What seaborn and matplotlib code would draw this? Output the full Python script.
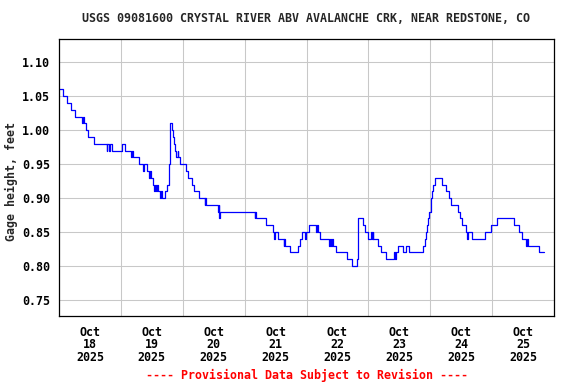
import pandas as pd
import matplotlib
matplotlib.use("Agg")
import matplotlib.pyplot as plt
import matplotlib.dates as mdates
import seaborn as sns

# gage height readings (step changes), hours since 2025-10-18 00:00
hours = [0.0, 1.7, 3.0, 4.6, 6.2, 8.8, 9.5, 9.75, 10.3, 11.3, 13.7,
         18.5, 18.75, 19.5, 19.75, 20.4, 24.3, 25.5, 28.1, 28.4, 28.6,
         31.1, 32.6, 32.85, 34.3, 35.0, 35.3, 35.5, 36.6, 37.0, 37.25,
         37.6, 38.0, 38.3, 39.3, 39.55, 40.0, 41.3, 42.0, 42.6, 42.9,
         43.75, 44.25, 44.5, 45.0, 45.5, 46.0, 46.25, 47.1, 49.2, 50.0,
         51.7, 52.4, 54.3, 56.5, 56.75, 57.2, 61.7, 61.9, 62.1, 62.3,
         75.9, 76.1, 76.5, 80.4, 82.9, 83.5, 83.75, 84.9, 87.1, 87.4,
         87.6, 89.7, 92.6, 93.5, 94.2, 95.5, 95.8, 96.9, 99.7, 100.2,
         100.5, 101.3, 104.6, 105.1, 105.4, 105.9, 106.2, 107.5, 111.6,
         113.5, 115.4, 115.8, 118.0, 118.8, 119.7, 121.0, 121.25, 121.7,
         121.95, 123.6, 124.9, 126.8, 130.0, 130.25, 130.6, 131.3, 133.5,
         134.6, 135.6, 141.2, 141.9, 142.3, 142.8, 143.2, 143.6, 144.2,
         144.6, 145.1, 145.9, 148.6, 150.0, 151.3, 152.2, 154.8, 155.5,
         156.4, 157.7, 158.4, 158.7, 160.0, 165.4, 167.5, 169.9, 176.5,
         178.5, 179.6, 181.3, 181.6, 182.0, 186.1, 188.2]
gage_ft = [1.06, 1.05, 1.04, 1.03, 1.02, 1.01, 1.02, 1.01, 1.00, 0.99, 0.98,
           0.97, 0.98, 0.97, 0.98, 0.97, 0.98, 0.97, 0.96, 0.97, 0.96,
           0.95, 0.94, 0.95, 0.94, 0.93, 0.94, 0.93, 0.92, 0.91, 0.92,
           0.91, 0.92, 0.91, 0.90, 0.91, 0.90, 0.91, 0.92, 0.95, 1.01,
           1.00, 0.99, 0.98, 0.97, 0.96, 0.97, 0.96, 0.95, 0.94, 0.93,
           0.92, 0.91, 0.90, 0.89, 0.90, 0.89, 0.88, 0.89, 0.87, 0.88,
           0.87, 0.88, 0.87, 0.86, 0.85, 0.84, 0.85, 0.84, 0.83, 0.84,
           0.83, 0.82, 0.83, 0.84, 0.85, 0.84, 0.85, 0.86, 0.85, 0.86,
           0.85, 0.84, 0.83, 0.84, 0.83, 0.84, 0.83, 0.82, 0.81,
           0.80, 0.81, 0.87, 0.86, 0.85, 0.84, 0.85, 0.84, 0.85,
           0.84, 0.83, 0.82, 0.81, 0.82, 0.81, 0.82, 0.83, 0.82,
           0.83, 0.82, 0.83, 0.84, 0.85, 0.86, 0.87, 0.88, 0.90,
           0.91, 0.92, 0.93, 0.92, 0.91, 0.90, 0.89, 0.88, 0.87,
           0.86, 0.85, 0.84, 0.85, 0.84, 0.85, 0.86, 0.87, 0.86,
           0.85, 0.84, 0.83, 0.84, 0.83, 0.82, 0.82]

day_labels = ["Oct\n18\n2025", "Oct\n19\n2025", "Oct\n20\n2025", "Oct\n21\n2025",
              "Oct\n22\n2025", "Oct\n23\n2025", "Oct\n24\n2025", "Oct\n25\n2025"]
y_ticks = [0.75, 0.80, 0.85, 0.90, 0.95, 1.00, 1.05, 1.10]

start = pd.Timestamp("2025-10-18 00:00")
df = pd.DataFrame({
    "time": start + pd.to_timedelta(hours, unit="h"),
    "gage": gage_ft,
})

sns.set_theme(style="whitegrid")
plt.rcParams["font.family"] = ["DejaVu Sans Mono"]
plt.rcParams["font.weight"] = "bold"

fig = plt.figure(figsize=(5.76, 3.84), dpi=100)
ax = fig.add_axes([59 / 576, 1 - 316 / 384, 495 / 576, 276.7 / 384])

sns.lineplot(data=df, x="time", y="gage", color="#0000ff", linewidth=0.9,
             drawstyle="steps-post", estimator=None, ax=ax)

ax.set_xlim(start, start + pd.Timedelta(days=8))
ax.set_ylim(0.7264, 1.1339)

days = pd.date_range(start, periods=8, freq="D")
ax.set_xticks(days + pd.Timedelta(hours=12))
ax.set_xticklabels(day_labels, linespacing=0.95)
ax.set_xticks(days[1:], minor=True)
ax.set_yticks(y_ticks)
ax.set_yticklabels([f"{v:.2f}" for v in y_ticks])

ax.grid(False, which="major", axis="x")
ax.grid(True, which="minor", axis="x", color="#c8c8c8", linewidth=0.75)
ax.grid(True, which="major", axis="y", color="#c8c8c8", linewidth=0.75)
ax.tick_params(axis="both", which="both", length=0, labelsize=8.4,
               labelcolor="black")
ax.tick_params(axis="x", pad=7)
ax.tick_params(axis="y", pad=6.5)
for s in ax.spines.values():
    s.set_color("black")
    s.set_linewidth(0.9)
ax.set_xlabel("")
ax.set_ylabel("")

fig.text(306.5 / 576, 1 - 19 / 384, "USGS 09081600 CRYSTAL RIVER ABV AVALANCHE CRK, NEAR REDSTONE, CO",
         ha="center", va="center", fontsize=8.4, fontweight="bold")
fig.text(11 / 576, 1 - 181 / 384, "Gage height, feet", rotation=90,
         ha="center", va="center", fontsize=8.4, fontweight="bold")
fig.text(306.5 / 576, 1 - 375 / 384, "---- Provisional Data Subject to Revision ----",
         ha="center", va="center", fontsize=8.4, fontweight="bold", color="red")

fig.savefig("out.png", dpi=100)
